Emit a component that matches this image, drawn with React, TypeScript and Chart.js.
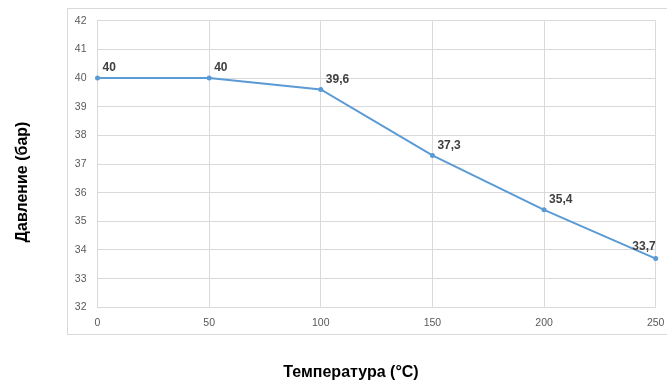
import { useEffect, useRef } from 'react';
import { Chart, registerables } from 'chart.js';

Chart.register(...registerables);

const temperatures = [0, 50, 100, 150, 200, 250];
const pressures = [40, 40, 39.6, 37.3, 35.4, 33.7];
const pressureLabels = ['40', '40', '39,6', '37,3', '35,4', '33,7'];
const xTitle = 'Температура (°C)';
const yTitle = 'Давление (бар)';
const yMin = 32;
const yMax = 42;
const xMin = 0;
const xMax = 250;

const framePlugin = {
  id: 'frameAndTitles',
  beforeDraw(chart: any) {
    const ctx = chart.ctx;
    ctx.save();
    ctx.fillStyle = '#ffffff';
    ctx.fillRect(0, 0, chart.width, chart.height);
    ctx.strokeStyle = '#d9d9d9';
    ctx.lineWidth = 1;
    ctx.strokeRect(67.5, 8.5, 620, 326);
    ctx.restore();
  },
  afterDatasetsDraw(chart: any) {
    const ctx = chart.ctx;
    const meta = chart.getDatasetMeta(0);
    ctx.save();
    ctx.font = 'bold 12px "Liberation Sans", Arial, sans-serif';
    ctx.fillStyle = '#404040';
    ctx.textBaseline = 'middle';
    ctx.textAlign = 'left';
    meta.data.forEach((pt: any, i: number) => {
      const text = pressureLabels[i];
      const w = ctx.measureText(text).width;
      let tx = pt.x + 5;
      let ty = pt.y - 10;
      if (tx + w > chart.chartArea.right) {
        tx = chart.chartArea.right - w;
        ty = pt.y - 12;
      }
      ctx.fillText(text, tx, ty);
    });
    ctx.restore();
  },
  afterDraw(chart: any) {
    const ctx = chart.ctx;
    ctx.save();
    ctx.font = 'bold 16px "Liberation Sans", Arial, sans-serif';
    ctx.fillStyle = '#000000';
    ctx.textAlign = 'center';
    ctx.textBaseline = 'middle';
    ctx.fillText(xTitle, 351, 373);
    ctx.translate(23, 182);
    ctx.rotate(-Math.PI / 2);
    ctx.fillText(yTitle, 0, 0);
    ctx.restore();
  },
};

export default function App() {
  const canvasRef = useRef<HTMLCanvasElement | null>(null);

  useEffect(() => {
    if (!canvasRef.current) return;
    const chart = new Chart(canvasRef.current, {
      type: 'line',
      data: {
        datasets: [
          {
            data: temperatures.map((t, i) => ({ x: t, y: pressures[i] })),
            borderColor: '#5b9bd5',
            backgroundColor: '#5b9bd5',
            borderWidth: 2,
            pointRadius: 2.5,
            pointBorderWidth: 0,
            pointBackgroundColor: '#5b9bd5',
            tension: 0,
            clip: false as any,
          },
        ],
      },
      options: {
        responsive: false,
        animation: false,
        devicePixelRatio: 1,
        layout: { padding: { left: 0, top: 20.7, right: 11.3, bottom: 0 } },
        plugins: {
          legend: { display: false },
          tooltip: { enabled: false },
        },
        events: [],
        scales: {
          x: {
            type: 'linear',
            min: xMin,
            max: xMax,
            afterFit(scale: any) {
              scale.height = 79.7;
              scale.paddingLeft = 0;
              scale.paddingRight = 0;
            },
            grid: { color: '#d9d9d9', lineWidth: 1, drawTicks: false },
            border: { color: '#d9d9d9', width: 1 },
            ticks: {
              stepSize: 50,
              padding: 10,
              color: '#595959',
              font: { size: 10.5, family: '"Liberation Sans", Arial, sans-serif' },
            },
          },
          y: {
            type: 'linear',
            min: yMin,
            max: yMax,
            afterFit(scale: any) {
              scale.width = 97.5;
              scale.paddingTop = 0;
              scale.paddingBottom = 0;
            },
            grid: { color: '#d9d9d9', lineWidth: 1, drawTicks: false },
            border: { color: '#d9d9d9', width: 1 },
            ticks: {
              stepSize: 1,
              padding: 11,
              color: '#595959',
              font: { size: 10.5, family: '"Liberation Sans", Arial, sans-serif' },
            },
          },
        },
      },
      plugins: [framePlugin],
    });
    return () => chart.destroy();
  }, []);

  return (
    <div style={{ position: 'fixed', left: 0, top: 0, width: 667, height: 387, background: '#fff' }}>
      <canvas ref={canvasRef} width={667} height={387} style={{ display: 'block', width: 667, height: 387 }} />
    </div>
  );
}
